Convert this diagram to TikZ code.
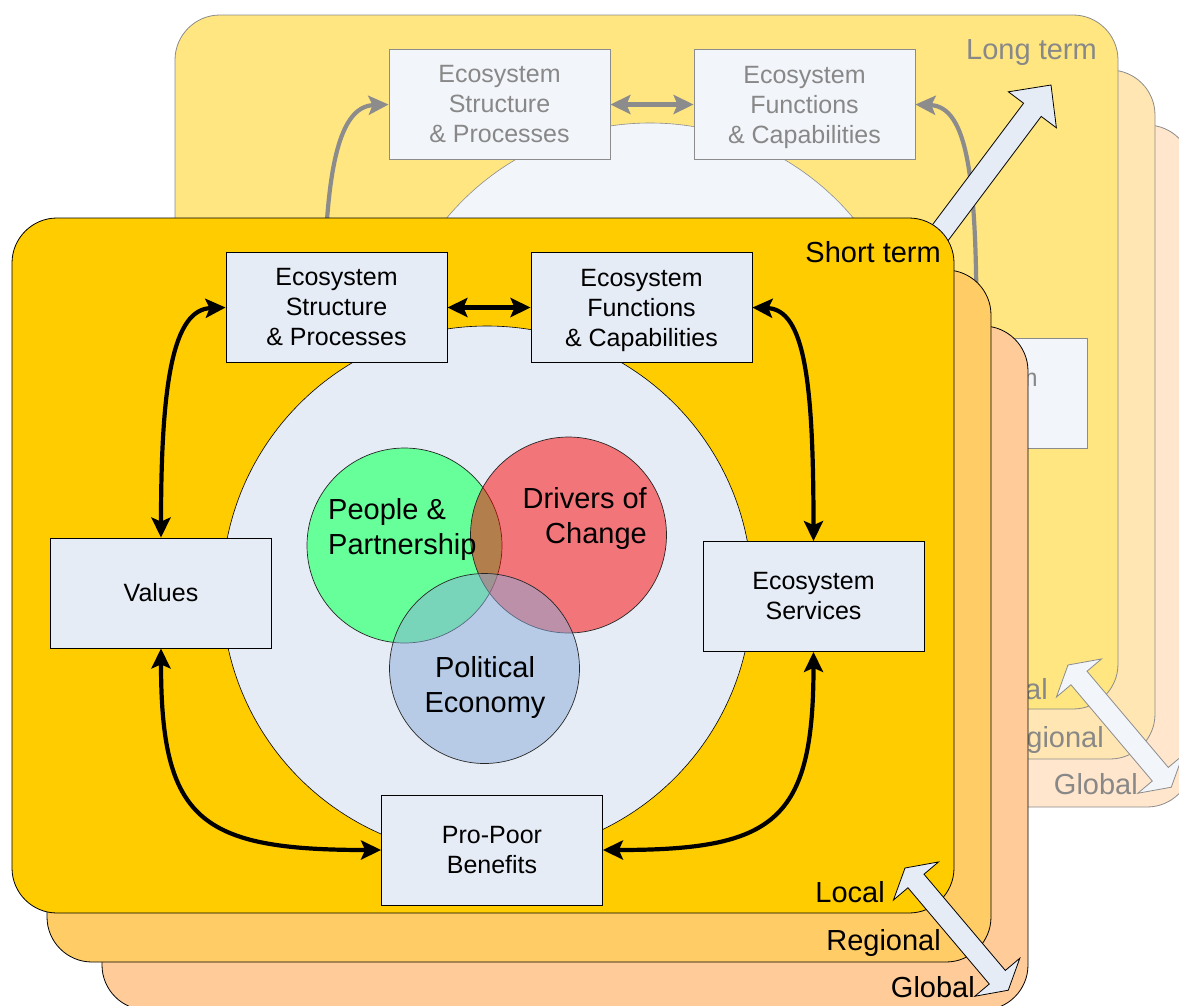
\documentclass[tikz,border=0pt]{standalone}
\usepackage{fontspec}
\setmainfont{Liberation Sans}
\usetikzlibrary{arrows.meta}

\definecolor{localc}{HTML}{FFCC00}
\definecolor{regionc}{HTML}{FFCC66}
\definecolor{globalc}{HTML}{FFCC99}
\definecolor{boxc}{HTML}{E6ECF6}
\definecolor{greenc}{HTML}{66FF99}
\definecolor{redc}{HTML}{FF0000}
\definecolor{bluec}{HTML}{8AACDA}
\definecolor{fadeline}{HTML}{8C8C8C}
\definecolor{fadetext}{HTML}{888888}

\newcommand{\ecoboxfont}{\fontsize{25pt}{30pt}\selectfont}
\newcommand{\ecolabelfont}{\fontsize{29pt}{35pt}\selectfont}

\tikzset{
  layer/.style={rounded corners=45pt, draw=black, line width=0.8pt},
  backlayer/.style={rounded corners=45pt, draw=fadeline, line width=0.8pt},
  ecobox/.style={draw=black, line width=0.8pt, fill=boxc, minimum width=221pt,
    minimum height=110pt, inner sep=0pt, align=center, font=\ecoboxfont},
  backbox/.style={ecobox, draw=fadeline, fill=boxc!50!white, text=fadetext},
  core/.style={circle, draw=black, line width=0.6pt, minimum size=530pt, inner sep=0pt},
  venn/.style={circle, draw=black!85, line width=0.7pt, inner sep=0pt},
  vennlabel/.style={font=\ecolabelfont, inner sep=0pt},
  scalelabel/.style={font=\ecolabelfont, inner sep=0pt, anchor=base east},
  flow/.style={line width=4.2pt, >={Stealth[length=20pt,width=19pt,inset=4pt]}, <->},
  backflow/.style={flow, draw=fadeline},
  blockarrow/.style={draw=black, line width=0.8pt, fill=boxc, line join=miter},
  backblockarrow/.style={draw=fadeline, line width=0.8pt, fill=boxc!50!white, line join=miter}
}

\begin{document}
\begin{tikzpicture}[x=1pt, y=-1pt]
\clip (0,0) rectangle (1179,1005);
\fill[white] (0,0) rectangle (1179,1005);

% ---------- long-term panel (behind) ----------
\draw[backlayer, fill=globalc!50!white] (265,125) rectangle (1192,807);
\draw[backlayer, fill=regionc!50!white] (210,70) rectangle (1155,759);
\draw[backlayer, fill=localc!50!white] (175,15) rectangle (1118,709);

\node[core, draw=fadeline, fill=boxc!50!white] (coreB) at (650,388) {};

\node[backbox] (espB) at (499.5,104.5) {Ecosystem\\Structure\\\& Processes};
\node[backbox] (efcB) at (804.5,104.5) {Ecosystem\\Functions\\\smash{\& Capabilities}};
\node[backbox] (essB) at (976.5,393.5) {Ecosystem\\Services};
\coordinate (valBtop) at (324,335);

\draw[backflow] (espB.east) -- (efcB.west);
\draw[backflow] (valBtop) .. controls +(0,-158) and +(-52,2) .. (espB.west);
\draw[backflow] (efcB.east) .. controls +(52,2) and +(0,-161) .. (essB.north);

\node[scalelabel, text=fadetext] (longterm) at (1097,59) {Long term};
\node[scalelabel, text=fadetext] (localB) at (1048,699) {Local};
\node[scalelabel, text=fadetext] (regionalB) at (1104,747) {Regional};
\node[scalelabel, text=fadetext] (globalB) at (1138,794) {Global};

\begin{scope}[shift={(1068,665)}, rotate=-49.8]
  \draw[backblockarrow] (0,0) -- (17,29.5) -- (17,10.5) -- (143,10.5) -- (143,29.5)
    -- (160,0) -- (143,-29.5) -- (143,-10.5) -- (17,-10.5) -- (17,-29.5) -- cycle;
\end{scope}

% ---------- arrow from short term to long term ----------
\begin{scope}[shift={(919,261)}, rotate=53.13]
  \draw[blockarrow] (0,11) -- (189,11) -- (189,30) -- (220,0) -- (189,-30)
    -- (189,-11) -- (0,-11) -- cycle;
\end{scope}

% ---------- short-term panel (front) ----------
\draw[layer, fill=globalc] (102,326) rectangle (1028,1010);
\draw[layer, fill=regionc] (47,270) rectangle (991,962);
\draw[layer, fill=localc] (12,218) rectangle (954,913);

\node[core, fill=boxc] (core) at (487,591) {};

% overlapping circles
\node[venn, fill=greenc, minimum size=195pt] (pp) at (404.5,545.5) {};
\node[venn, fill=redc, fill opacity=0.5, minimum size=196pt] (dc) at (568.5,535) {};
\node[venn, fill=bluec, fill opacity=0.5, minimum size=190pt] (pe) at (484.5,668.5) {};

\node[vennlabel, align=left, anchor=west] (pptext) at (328,529) {People \&\\Partnership};
\node[vennlabel, align=right, anchor=east] (dctext) at (647,518) {Drivers of\\Change};
\node[vennlabel, align=center] (petext) at (485,687) {Political\\Economy};

% boxes
\node[ecobox] (esp) at (336.5,307.5) {Ecosystem\\Structure\\\& Processes};
\node[ecobox] (efc) at (641.5,307.5) {Ecosystem\\Functions\\\smash{\& Capabilities}};
\node[ecobox] (val) at (161,593) {Values};
\node[ecobox] (ess) at (813.5,596.5) {Ecosystem\\Services};
\node[ecobox] (ppb) at (492,850) {Pro-Poor\\Benefits};

% connectors
\draw[flow] (esp.east) -- (efc.west);
\draw[flow] (val.north) .. controls +(0,-158) and +(-52,2) .. (esp.west);
\draw[flow] (efc.east) .. controls +(52,2) and +(0,-161) .. (ess.north);
\draw[flow] (val.south) .. controls +(0,172) and +(-181,0) .. (ppb.west);
\draw[flow] (ess.south) .. controls +(0,170) and +(171,0) .. (ppb.east);

% scale labels
\node[scalelabel] (shortterm) at (941,262) {Short term};
\node[scalelabel] (local) at (885,902) {Local};
\node[scalelabel] (regional) at (941,950) {Regional};
\node[scalelabel] (global) at (975,997) {Global};

\begin{scope}[shift={(905,868)}, rotate=-49.8]
  \draw[blockarrow] (0,0) -- (17,29.5) -- (17,10.5) -- (143,10.5) -- (143,29.5)
    -- (160,0) -- (143,-29.5) -- (143,-10.5) -- (17,-10.5) -- (17,-29.5) -- cycle;
\end{scope}
\end{tikzpicture}
\end{document}
